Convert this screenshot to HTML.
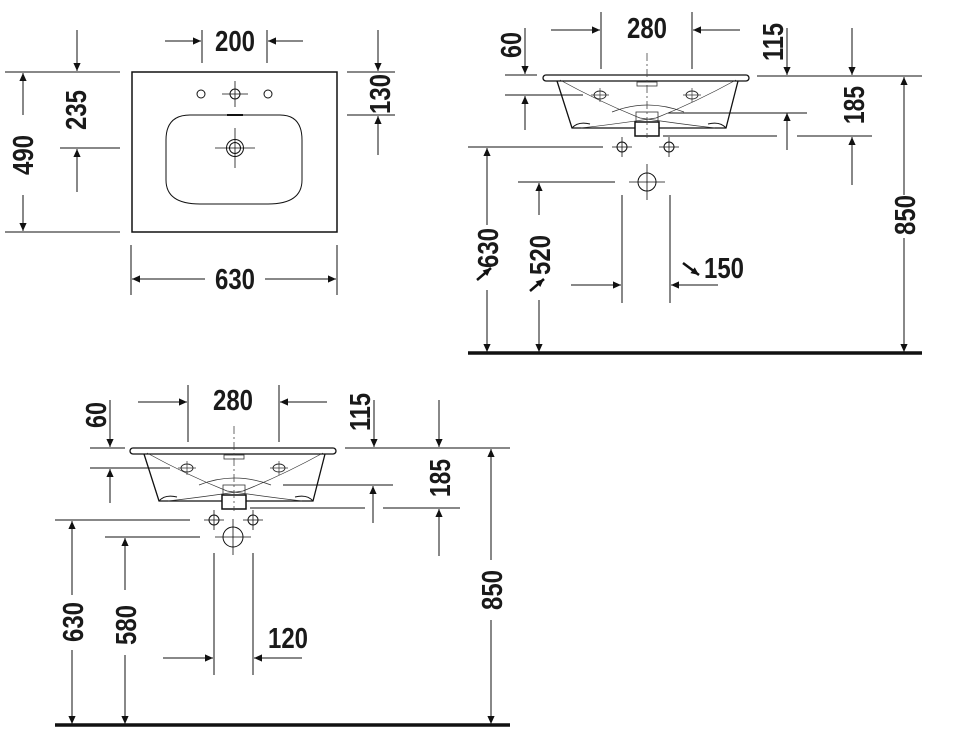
<!DOCTYPE html>
<html><head><meta charset="utf-8"><style>
html,body{margin:0;padding:0;background:#fff;}
svg{display:block;}
text{font-family:"Liberation Sans Narrow","Liberation Sans",sans-serif;font-weight:bold;font-size:29px;fill:#1a1a1a;}
.ar{marker-end:url(#a);}
</style></head><body>
<svg width="960" height="754" viewBox="0 0 960 754" xmlns="http://www.w3.org/2000/svg">
<defs>
<marker id="a" viewBox="0 0 10 10" refX="10" refY="5" markerWidth="14" markerHeight="8" markerUnits="userSpaceOnUse" orient="auto"><path d="M0,0.5 L10,5 L0,9.5z" fill="#111"/></marker>
<g id="basin">
  <rect x="543" y="75" width="206" height="6" rx="3" fill="#fff" stroke="#111" stroke-width="1.3"/>
  <path d="M557,81 L572,128 L726,128 L738,81" fill="none" stroke="#111" stroke-width="1.3"/>
  <path d="M572,128 Q578,121 590,124 M726,128 Q720,121 708,124" fill="none" stroke="#111" stroke-width="1"/>
  <path d="M560,80 Q600,102 640,118 Q680,124 715,128" fill="none" stroke="#333" stroke-width="0.7"/>
  <path d="M736,80 Q696,102 656,118 Q616,124 581,128" fill="none" stroke="#333" stroke-width="0.7"/>
  <path d="M612,112 Q647,98 684,112" fill="none" stroke="#333" stroke-width="0.7"/>
  <rect x="637" y="82" width="20" height="4" fill="none" stroke="#333" stroke-width="0.8"/>
  <ellipse cx="600" cy="95" rx="6" ry="4" fill="none" stroke="#222" stroke-width="0.9"/>
  <ellipse cx="692" cy="95" rx="6" ry="4" fill="none" stroke="#222" stroke-width="0.9"/>
  <path d="M591,95 H609 M600,88 V102 M683,95 H701 M692,88 V102" stroke="#333" stroke-width="0.7"/>
  <rect x="636" y="112" width="22" height="10" fill="none" stroke="#333" stroke-width="0.8"/>
  <rect x="635" y="122" width="24" height="14" fill="#fff" stroke="#111" stroke-width="1.5"/>
  <path d="M647,53 V138" stroke="#444" stroke-width="0.8" stroke-dasharray="8,3,2,3"/>
</g>
</defs>
<g stroke="#111" stroke-width="1" fill="none">
<!-- TOP LEFT plan -->
<rect x="132" y="72" width="205" height="160" stroke-width="1.5"/>
<path d="M190,115 H280 Q302,115 302,140 V180 Q302,204 268,204 H200 Q166,204 166,180 V140 Q166,115 190,115Z" stroke-width="1"/>
<path d="M227,115 H243" stroke-width="2"/>
<circle cx="235" cy="94" r="5"/><path d="M222,94 H248 M235,81 V107" stroke-width="0.8"/>
<circle cx="201" cy="94" r="4"/><circle cx="268" cy="94" r="4"/>
<circle cx="235" cy="148" r="8.5"/><circle cx="235" cy="148" r="5.5"/><path d="M215,148 H255 M235,128 V168" stroke-width="0.8"/>
<path d="M5,72 H120 M5,232 H120 M60,148 H120"/>
<path class="ar" d="M23,115 V73"/><path class="ar" d="M23,195 V231"/>
<path class="ar" d="M77,30 V71"/><path class="ar" d="M77,192 V149"/>
<path d="M202,30 V63 M267,30 V63"/>
<path class="ar" d="M165,41 H201"/><path class="ar" d="M303,41 H268"/>
<path d="M347,72 H395 M347,115 H395"/>
<path class="ar" d="M378,30 V71"/><path class="ar" d="M378,155 V116"/>
<path d="M131,245 V295 M337,245 V295"/>
<path class="ar" d="M205,279 H132"/><path class="ar" d="M265,279 H336"/>

<!-- TOP RIGHT -->
<path d="M601,12 V69 M692,12 V69"/>
<path class="ar" d="M551,30 H600"/><path class="ar" d="M740,30 H693"/>
<path d="M505,75 H537 M505,95 H583"/>
<path class="ar" d="M525,28 V74"/><path class="ar" d="M525,130 V96"/>
<path d="M757,76 H922"/>
<path class="ar" d="M787,28 V75"/><path class="ar" d="M852,28 V75"/>
<path d="M668,113 H807 M663,136 H777 M797,136 H872"/>
<path class="ar" d="M787,150 V113"/><path class="ar" d="M852,185 V137"/>
<path class="ar" d="M904,195 V77"/><path class="ar" d="M904,238 V352"/>
<path d="M468,147 H603 M518,182 H615"/>
<path class="ar" d="M487,225 V148"/><path class="ar" d="M487,290 V352"/>
<path class="ar" d="M539,215 V183"/><path class="ar" d="M539,300 V352"/>
<circle cx="622" cy="147" r="5"/><circle cx="669" cy="147" r="5"/>
<path d="M612,147 H632 M622,137 V157 M659,147 H679 M669,137 V157" stroke-width="0.8"/>
<circle cx="647" cy="182" r="9"/><path d="M629,182 H665 M647,164 V200" stroke-width="0.8"/>
<path d="M622,195 V303 M670,195 V303"/>
<path class="ar" d="M571,285 H621"/><path class="ar" d="M718,285 H671"/>
<path d="M468,353 H922" stroke-width="3.5"/>

<!-- BOTTOM LEFT -->
<path d="M188,385 V442 M279,385 V442"/>
<path class="ar" d="M138,402 H187"/><path class="ar" d="M327,402 H280"/>
<path d="M90,448 H125 M90,468 H170"/>
<path class="ar" d="M110,400 V447"/><path class="ar" d="M110,503 V469"/>
<path d="M345,448 H510"/>
<path class="ar" d="M374,400 V447"/><path class="ar" d="M439,400 V447"/>
<path d="M283,485 H393 M250,508 H365 M383,508 H460"/>
<path class="ar" d="M373,523 V486"/><path class="ar" d="M439,556 V509"/>
<path class="ar" d="M491,560 V449"/><path class="ar" d="M491,620 V724"/>
<path d="M55,520 H190 M105,537 H200"/>
<path class="ar" d="M72,595 V521"/><path class="ar" d="M72,650 V724"/>
<path class="ar" d="M125,590 V538"/><path class="ar" d="M125,655 V724"/>
<circle cx="214" cy="520" r="5"/><circle cx="253" cy="520" r="5"/>
<path d="M204,520 H224 M214,510 V530 M243,520 H263 M253,510 V530" stroke-width="0.8"/>
<circle cx="233" cy="537" r="10"/><path d="M215,537 H251 M233,519 V555" stroke-width="0.8"/>
<path d="M214,553 V675 M253,553 V675"/>
<path class="ar" d="M163,658 H213"/><path class="ar" d="M302,658 H254"/>
<path d="M55,725 H510" stroke-width="3.5"/>
</g>
<use href="#basin"/>
<use href="#basin" transform="translate(-413,373)"/>

<!-- labels -->
<g>
<text x="235" y="51" text-anchor="middle" textLength="40" lengthAdjust="spacingAndGlyphs">200</text>
<text x="235" y="289" text-anchor="middle" textLength="40" lengthAdjust="spacingAndGlyphs">630</text>
<text transform="translate(33,155) rotate(-90)" text-anchor="middle" textLength="40" lengthAdjust="spacingAndGlyphs">490</text>
<text transform="translate(86,110) rotate(-90)" text-anchor="middle" textLength="40" lengthAdjust="spacingAndGlyphs">235</text>
<text transform="translate(390,94) rotate(-90)" text-anchor="middle" textLength="40" lengthAdjust="spacingAndGlyphs">130</text>

<text x="647" y="38" text-anchor="middle" textLength="40" lengthAdjust="spacingAndGlyphs">280</text>
<text transform="translate(521,45) rotate(-90)" text-anchor="middle" textLength="26" lengthAdjust="spacingAndGlyphs">60</text>
<text transform="translate(783,42) rotate(-90)" text-anchor="middle" textLength="38" lengthAdjust="spacingAndGlyphs">115</text>
<text transform="translate(864,105) rotate(-90)" text-anchor="middle" textLength="38" lengthAdjust="spacingAndGlyphs">185</text>
<text transform="translate(915,215) rotate(-90)" text-anchor="middle" textLength="40" lengthAdjust="spacingAndGlyphs">850</text>
<text transform="translate(498,248) rotate(-90)" text-anchor="middle" textLength="40" lengthAdjust="spacingAndGlyphs">630</text>
<text transform="translate(550,255) rotate(-90)" text-anchor="middle" textLength="40" lengthAdjust="spacingAndGlyphs">520</text>
<text x="704" y="278" textLength="40" lengthAdjust="spacingAndGlyphs">150</text>

<text x="233" y="410" text-anchor="middle" textLength="40" lengthAdjust="spacingAndGlyphs">280</text>
<text transform="translate(106,415) rotate(-90)" text-anchor="middle" textLength="26" lengthAdjust="spacingAndGlyphs">60</text>
<text transform="translate(370,412) rotate(-90)" text-anchor="middle" textLength="38" lengthAdjust="spacingAndGlyphs">115</text>
<text transform="translate(450,478) rotate(-90)" text-anchor="middle" textLength="38" lengthAdjust="spacingAndGlyphs">185</text>
<text transform="translate(502,590) rotate(-90)" text-anchor="middle" textLength="40" lengthAdjust="spacingAndGlyphs">850</text>
<text transform="translate(83,622) rotate(-90)" text-anchor="middle" textLength="40" lengthAdjust="spacingAndGlyphs">630</text>
<text transform="translate(136,625) rotate(-90)" text-anchor="middle" textLength="40" lengthAdjust="spacingAndGlyphs">580</text>
<text x="288" y="648" text-anchor="middle" textLength="40" lengthAdjust="spacingAndGlyphs">120</text>
</g>
<g stroke="#111" stroke-width="2.5" fill="none">
<path class="ar" d="M477,280 L491,268"/>
<path class="ar" d="M530,291 L544,279"/>
<path class="ar" d="M683,263 L699,275"/>
</g>
</svg>
</body></html>
